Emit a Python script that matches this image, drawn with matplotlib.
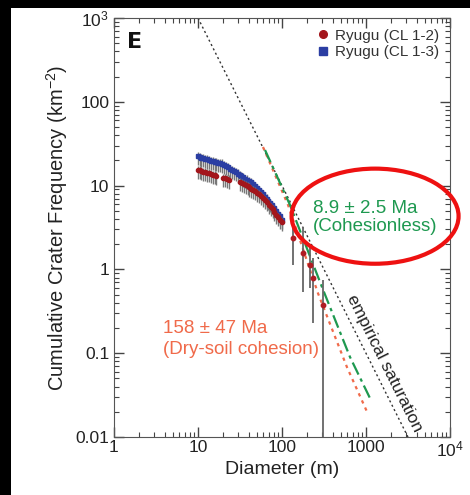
from matplotlib import pyplot as plt
from matplotlib.patches import Ellipse, Rectangle
import numpy as np

plt.rcParams['font.family'] = ['Liberation Sans', 'DejaVu Sans']
plt.rcParams['mathtext.fontset'] = 'custom'
plt.rcParams['mathtext.rm'] = 'Liberation Sans'
plt.rcParams['mathtext.default'] = 'regular'

# Ryugu CL 1-3 (blue squares)
blue_d = [10.0, 10.5, 11.0, 11.6, 12.2, 12.8, 13.5, 14.2, 15.0, 15.8, 16.6, 17.5,
          18.5, 19.5, 20.5, 21.6, 22.8, 24.0, 25.3, 26.7, 28.1, 29.6, 31.2, 32.9,
          34.7, 36.6, 38.6, 40.7, 42.9, 45.2, 47.7, 50.3, 53.0, 55.9, 58.9, 62.1,
          65.5, 69.0, 72.8, 76.7, 80.9, 85.3, 89.9, 94.8, 100.0]
blue_n = [22.5, 22.0, 21.5, 21.2, 20.8, 20.5, 20.0, 19.8, 19.5, 19.3, 19.0, 18.8,
          18.6, 18.3, 17.6, 17.0, 16.5, 15.9, 15.4, 14.9, 14.4, 13.9, 13.4, 12.9,
          12.5, 12.1, 11.8, 11.4, 10.9, 10.4, 9.9, 9.4, 8.9, 8.4, 7.9, 7.4,
          7.0, 6.6, 6.2, 5.8, 5.4, 5.0, 4.6, 4.3, 3.9]

# Ryugu CL 1-2 (red circles)
red_d = [10.0, 10.5, 11.0, 11.6, 12.2, 12.8, 13.5, 14.2, 15.0, 15.8, 16.6,
         20.0, 21.0, 22.0, 23.2, 31.5, 33.2, 35.0, 36.9, 38.9, 41.0, 43.2, 45.5,
         48.0, 50.6, 53.3, 56.2, 59.2, 62.4, 65.8, 69.4, 73.1, 77.1, 81.2, 85.6,
         90.2, 95.1, 100.0]
red_n = [15.5, 15.2, 14.9, 14.6, 14.4, 14.2, 14.0, 13.8, 13.5, 13.3, 13.0,
         12.4, 12.2, 12.0, 11.8, 11.0, 10.7, 10.4, 10.1, 9.8, 9.5, 9.2, 8.9,
         8.6, 8.2, 7.9, 7.5, 7.1, 6.7, 6.3, 5.9, 5.5, 5.2, 4.8, 4.5,
         4.2, 3.9, 3.7]
dense_err_lo = 0.22
dense_err_hi = 0.12

# large craters (red) with explicit error limits
big_d = [135, 178, 215, 234, 307]
big_n = [2.4, 1.57, 1.13, 0.79, 0.376]
big_hi = [3.4, 3.2, 2.0, 1.37, 0.75]
big_lo = [1.13, 0.54, 0.6, 0.23, 0.001]

# model curves
sat_d = [10, 3160]
sat_n = [1000, 0.01]
coh_d = [62.8, 124.5, 299, 645, 1116]
coh_n = [26.6, 5.87, 0.617, 0.090, 0.029]
dry_d = [59.4, 118, 268, 594, 1028]
dry_n = [28.9, 5.87, 0.52, 0.068, 0.020]

xticks = [1, 10, 100, 1000, 10000]
xlabels = ['1', '10', '100', '1000', '$10^4$']
yticks = [0.01, 0.1, 1, 10, 100, 1000]
ylabels = ['0.01', '0.1', '1', '10', '100', '$10^3$']

fig = plt.figure(figsize=(4.7, 4.95), dpi=100)
fig.patch.set_facecolor('black')
fig.patches.append(Rectangle((11/470, 0), 1, 1-8/495, transform=fig.transFigure,
                             facecolor='white', edgecolor='none', zorder=-10))
ax = fig.add_axes([114/470, 1-437/495, 336/470, 419/495])
ax.set_xscale('log')
ax.set_yscale('log')
ax.set_xlim(1, 1e4)
ax.set_ylim(0.01, 1e3)

bn = np.array(blue_n)
rn = np.array(red_n)
ax.errorbar(blue_d, blue_n, yerr=[bn*dense_err_lo, bn*dense_err_hi], fmt='s',
            ms=3, color='#2b3ea3', ecolor='#777777', elinewidth=1, capsize=0, zorder=3)
ax.errorbar(red_d, red_n, yerr=[rn*dense_err_lo, rn*dense_err_hi], fmt='o',
            ms=3, color='#a3161c', ecolor='#777777', elinewidth=1, capsize=0, zorder=4)
bn2 = np.array(big_n)
ax.errorbar(big_d, big_n, yerr=[bn2-np.array(big_lo), np.array(big_hi)-bn2], fmt='o',
            ms=3.2, color='#b01c22', ecolor='#666666', elinewidth=1.3, capsize=0, zorder=4)

ax.plot(sat_d, sat_n, ls=(0, (1.5, 2)), color='#333333', lw=1)
ax.plot(dry_d, dry_n, ls=(0, (1.5, 2)), color='#f06a4a', lw=1.6)
ax.plot(coh_d, coh_n, ls=(0, (6, 2, 1.5, 2)), color='#1e9950', lw=1.6)

ax.set_xticks(xticks)
ax.set_xticklabels(xlabels)
ax.set_yticks(yticks)
ax.set_yticklabels(ylabels)
ax.tick_params(which='both', direction='in', top=True, right=True, labelsize=12.5,
               color='#444444', labelcolor='#222222')
ax.tick_params(axis='x', which='major', pad=2)
ax.tick_params(which='major', length=7, width=1)
ax.tick_params(which='minor', length=3.5, width=0.8)
for s in ax.spines.values():
    s.set_color('#555555')
ax.set_xlabel('Diameter (m)', fontsize=14, color='#222222', labelpad=1)
ax.set_ylabel('Cumulative Crater Frequency (km$^{-2}$)', fontsize=14.5,
              color='#222222', labelpad=4)

ax.text(0.04, 0.943, 'E', transform=ax.transAxes, fontsize=16, fontweight='bold',
        family='DejaVu Sans', ha='left', va='center', color='#111111')

ax.plot([], [], 'o', ms=5.5, color='#a3161c', label='Ryugu (CL 1-2)')
ax.plot([], [], 's', ms=5.5, color='#2b3ea3', label='Ryugu (CL 1-3)')
ax.legend(loc='upper right', frameon=False, fontsize=11, handlelength=0.8,
          handletextpad=0.4, borderaxespad=0.3, labelspacing=0.15, labelcolor='#333333')

ax.text(234, 4.16, '8.9 \u00b1 2.5 Ma\n(Cohesionless)', color='#1e9950', fontsize=13.5,
        ha='left', va='center', linespacing=1.05)
ax.text(3.83, 0.148, '158 \u00b1 47 Ma\n(Dry-soil cohesion)', color='#f06a4a', fontsize=13.5,
        ha='left', va='center', linespacing=1.25)
ax.text(1637, 0.0764, 'empirical saturation', fontsize=12.5, color='#222222',
        rotation=-63.5, rotation_mode='anchor', ha='center', va='center')

ax.add_patch(Ellipse((0.777, 0.527), 0.497, 0.227, transform=ax.transAxes,
                     fill=False, edgecolor='#ee1111', lw=3, clip_on=False, zorder=10))

fig.savefig('out.png', dpi=100, facecolor=fig.get_facecolor())
